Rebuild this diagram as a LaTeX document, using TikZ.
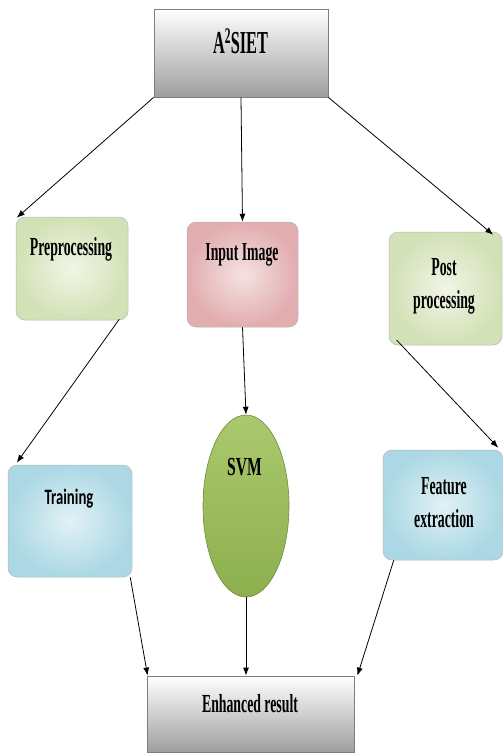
\documentclass[tikz,border=0pt]{standalone}
\usepackage{fontspec}
\setmainfont{Liberation Serif}
\newfontfamily\trainfont{Carlito}
\usetikzlibrary{calc,shapes.geometric,arrows.meta}
\definecolor{grayedge}{HTML}{7F7F7F}
\definecolor{boxedge}{HTML}{B8B8B8}
\definecolor{greenA}{HTML}{D3E1B6}
\definecolor{greenB}{HTML}{F1F5E6}
\definecolor{pinkA}{HTML}{E1ADAF}
\definecolor{pinkB}{HTML}{F6E2E2}
\definecolor{blueA}{HTML}{ABD8E4}
\definecolor{blueB}{HTML}{E2F1F5}
\definecolor{svmA}{HTML}{ABC86E}
\definecolor{svmB}{HTML}{8DAF4D}
\definecolor{svmEdge}{HTML}{6E8B3D}
\tikzset{
  graybox/.style={draw=grayedge, line width=0.8pt, top color=white, bottom color=black!38, inner sep=0pt},
  softbox/.style={draw=boxedge, line width=0.5pt, rounded corners=9pt, inner sep=0pt},
  greenbox/.style={softbox, inner color=greenB, outer color=greenA},
  pinkbox/.style={softbox, inner color=pinkB, outer color=pinkA},
  bluebox/.style={softbox, inner color=blueB, outer color=blueA},
  svmnode/.style={ellipse, draw=svmEdge, line width=0.6pt, top color=svmA, bottom color=svmB, inner sep=0pt},
  lbl/.style={font=\fontsize{26}{33}\selectfont\bfseries, align=center, inner sep=0pt, anchor=base},
  conn/.style={-{Latex[length=8pt,width=6pt]}, line width=0.8pt},
}
\begin{document}
\begin{tikzpicture}[x=1pt,y=-1pt]
\useasboundingbox (0,0) rectangle (503,755);

% boxes (centre, size)
\node[graybox, minimum width=174pt, minimum height=88pt] (top) at (241,53) {};
\node[greenbox, minimum width=112pt, minimum height=103pt] (pre) at (72,268.5) {};
\node[pinkbox, minimum width=111pt, minimum height=105pt] (inp) at (242.5,274.5) {};
\node[greenbox, minimum width=113pt, minimum height=113pt] (post) at (445.5,288.5) {};
\node[bluebox, minimum width=124pt, minimum height=112pt] (train) at (70,521) {};
\node[svmnode, minimum width=86pt, minimum height=182pt] (svm) at (246,506) {};
\node[bluebox, minimum width=120pt, minimum height=110pt] (feat) at (443,505) {};
\node[graybox, minimum width=207pt, minimum height=76pt] (res) at (250.5,714) {};

% labels, placed on their last baseline
\node[lbl, font=\fontsize{32}{36}\selectfont\bfseries, xscale=0.51] (topT) at (240.5,53) {A\textsuperscript{2}SIET};
\node[lbl, xscale=0.53] (preT) at (71,255) {Preprocessing};
\node[lbl, xscale=0.53] (inpT) at (242,260) {Input Image};
\node[lbl, xscale=0.53] (postT) at (444,308) {Post\\processing};
\node[lbl, font=\fontsize{22}{26}\selectfont\trainfont\bfseries, xscale=0.67] (trainT) at (69,504) {Training};
\node[lbl, xscale=0.6] (svmT) at (244.5,475) {SVM};
\node[lbl, xscale=0.53] (featT) at (444,527) {Feature\\extraction};
\node[lbl, xscale=0.53] (resT) at (250,712) {Enhanced result};

% connectors
\draw[conn] (top.south west) -- ($(pre.north west)+(1,1)$);
\draw[conn] (top.south) -- (inp.north);
\draw[conn] (top.south east) -- ($(post.north east)+(-9,3)$);
\draw[conn] ($(pre.south east)+(-9,-1)$) -- ($(train.north west)+(9,-2)$);
\draw[conn] (inp.south) -- (svm.north);
\draw[conn] ($(post.south west)+(8,-5)$) -- ($(feat.north east)+(-5,-2)$);
\draw[conn] ($(train.south east)+(-2,0)$) -- ($(res.north west)+(1,0)$);
\draw[conn] (svm.south) -- (res.north -| svm.south);
\draw[conn] ($(feat.south west)+(11,0)$) -- ($(res.north east)+(3,0)$);
\end{tikzpicture}
\end{document}
